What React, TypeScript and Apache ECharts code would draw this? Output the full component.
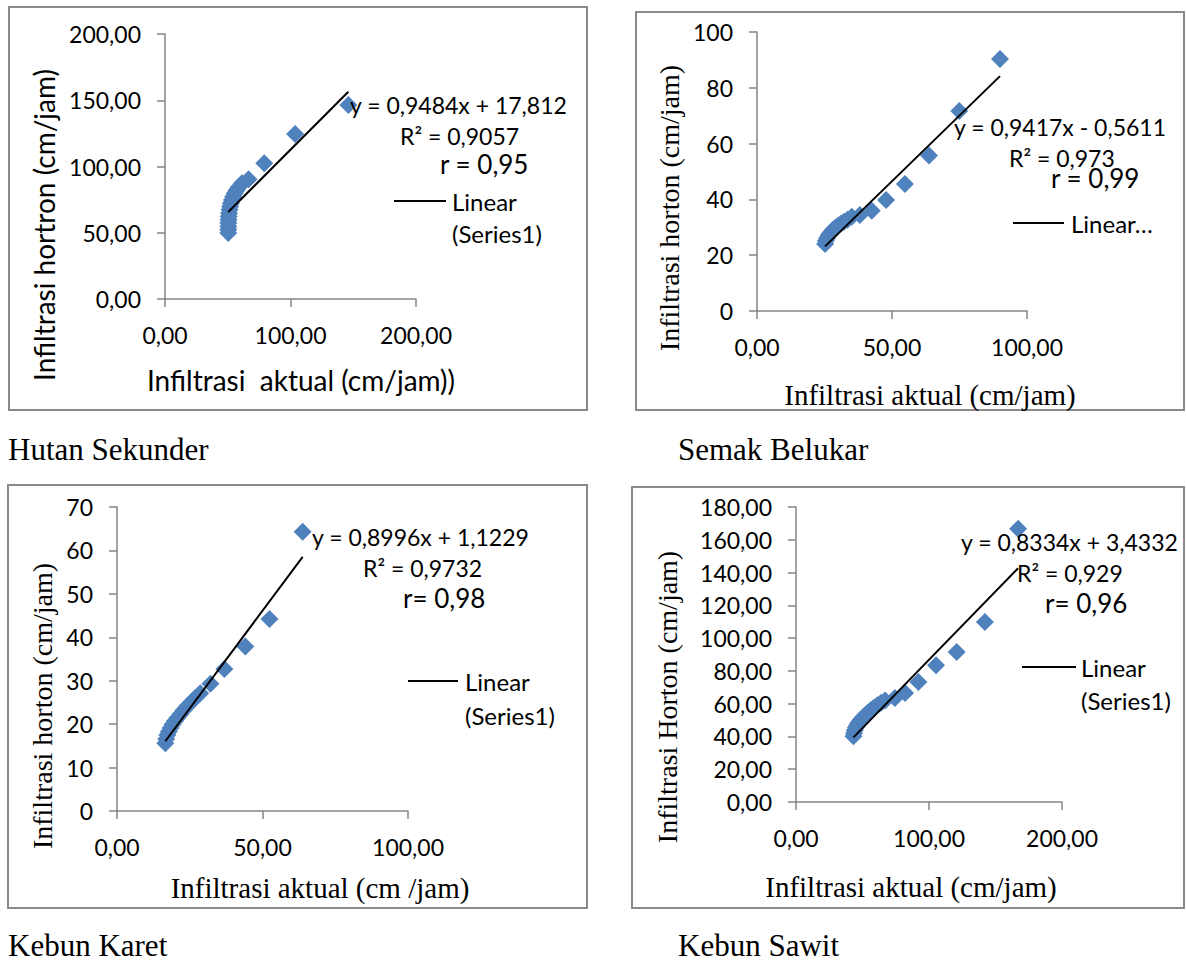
import { useEffect, useRef } from "react";
import * as echarts from "echarts";

// ---------- data ----------
const hutanX = [50.4, 50.4, 50.5, 50.5, 50.6, 50.8, 51.0, 51.4, 51.9, 52.5, 53.3, 54.3, 55.5, 57.0, 58.9, 61.3, 66.6, 79.1, 103.7, 146.1];
const hutanY = [49.8, 52.3, 54.8, 57.3, 59.8, 62.3, 64.8, 67.3, 69.8, 72.3, 74.8, 77.2, 79.6, 82.0, 84.6, 87.3, 90.3, 102.4, 124.5, 146.4];

const semakX = [25.2, 25.5, 26.0, 26.6, 27.3, 28.1, 29.0, 30.0, 31.0, 32.2, 33.5, 35.1, 38.1, 42.5, 47.8, 54.8, 63.7, 74.9, 90.0];
const semakY = [24.0, 25.2, 26.2, 27.2, 28.1, 29.0, 29.8, 30.6, 31.3, 32.0, 32.7, 33.8, 34.4, 35.9, 39.8, 45.5, 55.7, 71.7, 90.3];

const karetX = [16.6, 16.9, 17.3, 17.8, 18.4, 19.1, 19.9, 20.8, 21.8, 22.9, 24.1, 25.4, 26.9, 28.6, 32.1, 36.9, 44.1, 52.4, 63.8];
const karetY = [15.6, 16.6, 17.5, 18.3, 19.1, 19.9, 20.7, 21.5, 22.3, 23.2, 24.1, 25.0, 26.0, 27.1, 29.3, 32.7, 37.9, 44.2, 64.3];

const sawitX = [43.2, 43.6, 44.2, 45.0, 46.0, 47.2, 48.6, 50.2, 52.0, 54.0, 56.2, 58.6, 61.2, 64.0, 67.0, 74.4, 82.0, 92.0, 105.3, 120.8, 142.0, 167.0];
const sawitY = [40.1, 42.0, 43.8, 45.5, 47.0, 48.5, 50.0, 51.5, 53.0, 54.5, 56.0, 57.5, 59.0, 60.5, 62.0, 63.5, 66.5, 73.2, 83.4, 91.5, 109.8, 166.7];

const slopes = [0.9484, 0.9417, 0.8996, 0.8334];
const intercepts = [17.812, -0.5611, 1.1229, 3.4332];

const captions = ["Hutan Sekunder", "Semak Belukar", "Kebun Karet", "Kebun Sawit"];
const eqTexts = ["y = 0,9484x + 17,812", "y = 0,9417x - 0,5611", "y = 0,8996x + 1,1229", "y = 0,8334x + 3,4332"];
const r2Texts = ["R² = 0,9057", "R² = 0,973", "R² = 0,9732", "R² = 0,929"];
const rTexts = ["r = 0,95", "r = 0,99", "r= 0,98", "r= 0,96"];
const xTitles = ["Infiltrasi  aktual (cm/jam))", "Infiltrasi aktual (cm/jam)", "Infiltrasi aktual (cm /jam)", "Infiltrasi aktual (cm/jam)"];
const yTitles = ["Infiltrasi hortron (cm/jam)", "Infiltrasi horton (cm/jam)", "Infiltrasi horton (cm/jam)", "Infiltrasi Horton (cm/jam)"];

const xMax = [200, 100, 100, 200];
const xStep = [100, 50, 50, 100];
const yMax = [200, 100, 70, 180];
const yStep = [50, 20, 10, 20];
const yDecimals = [true, false, false, true];

// ---------- styling ----------
const SANS = 'Lato, "Open Sans", sans-serif';
const SERIF = '"Liberation Serif", "Times New Roman", serif';
const BLUE = "#4F81BD";
const AXIS = "#868686";

const comma = (v: number) => v.toFixed(2).replace(".", ",");
const intFmt = (v: number) => String(Math.round(v));

const grids = [
  { left: 165, top: 34, width: 251, height: 265 },
  { left: 757, top: 32, width: 270, height: 279 },
  { left: 117, top: 507, width: 291, height: 304 },
  { left: 796, top: 507, width: 266, height: 295 },
];

const frames = [
  { x: 9, y: 7, w: 578, h: 403 },
  { x: 636, y: 12, w: 548, h: 398 },
  { x: 8, y: 485, w: 579, h: 423 },
  { x: 632, y: 487, w: 552, h: 421 },
];

const textPos = [
  { eq: [350, 105], r2: [400, 136], r: [440, 164], leg: [394, 446, 201], lt: [452, 201], ls: [452, 233], xt: [301, 380], yt: [44, 225], cap: [8, 449], sans: true },
  { eq: [954, 127], r2: [1009, 158], r: [1051, 178], leg: [1013, 1064, 223], lt: [1071, 223], ls: null, xt: [930, 395], yt: [669, 208], cap: [678, 449], sans: false },
  { eq: [312, 537], r2: [363, 568], r: [403, 598], leg: [408, 458, 681], lt: [465, 681], ls: [465, 715], xt: [320, 888], yt: [42, 706], cap: [8, 945], sans: false },
  { eq: [961, 542], r2: [1017, 573], r: [1045, 603], leg: [1022, 1076, 667], lt: [1081, 667], ls: [1081, 700], xt: [911, 887], yt: [667, 697], cap: [678, 945], sans: false },
];

const xsAll = [hutanX, semakX, karetX, sawitX];
const ysAll = [hutanY, semakY, karetY, sawitY];

function buildOption() {
  const xAxis: any[] = [];
  const yAxis: any[] = [];
  const series: any[] = [];
  const graphic: any[] = [];

  for (let i = 0; i < 4; i++) {
    const common = {
      type: "value",
      gridIndex: i,
      min: 0,
      axisLine: { show: true, onZero: false, lineStyle: { color: AXIS, width: 1.5 } },
      axisTick: { show: true, inside: false, length: 8, lineStyle: { color: AXIS, width: 1.5 } },
      splitLine: { show: false },
    };
    xAxis.push({
      ...common,
      max: xMax[i],
      interval: xStep[i],
      axisLabel: { formatter: comma, color: "#000", fontFamily: SANS, fontSize: 23, margin: 24 },
    });
    yAxis.push({
      ...common,
      max: yMax[i],
      interval: yStep[i],
      axisLabel: { formatter: yDecimals[i] ? comma : intFmt, color: "#000", fontFamily: SANS, fontSize: 23, margin: 24 },
    });
    const xs = xsAll[i];
    const ys = ysAll[i];
    series.push({
      type: "scatter",
      xAxisIndex: i,
      yAxisIndex: i,
      symbol: "diamond",
      symbolSize: 18,
      itemStyle: { color: BLUE, opacity: 1 },
      data: xs.map((x, k) => [x, ys[k]]),
      z: 2,
    });
    const x0 = Math.min(...xs);
    const x1 = Math.max(...xs);
    series.push({
      type: "line",
      xAxisIndex: i,
      yAxisIndex: i,
      symbol: "none",
      lineStyle: { color: "#000", width: 2 },
      data: [
        [x0, slopes[i] * x0 + intercepts[i]],
        [x1, slopes[i] * x1 + intercepts[i]],
      ],
      z: 3,
    });

    const f = frames[i];
    graphic.push({
      type: "rect",
      shape: { x: f.x, y: f.y, width: f.w, height: f.h },
      style: { fill: "none", stroke: "#8a8a8a", lineWidth: 2 },
      z: -1,
    });
    const p = textPos[i];
    const txt = (t: string, x: number, y: number, size: number, family: string) => ({
      type: "text",
      x,
      y,
      style: { text: t, fill: "#000", fontFamily: family, fontSize: size, verticalAlign: "middle" },
      z: 10,
    });
    graphic.push(txt(eqTexts[i], p.eq[0], p.eq[1], 23, SANS));
    graphic.push(txt(r2Texts[i], p.r2[0], p.r2[1], 23, SANS));
    graphic.push(txt(rTexts[i], p.r[0], p.r[1], 26, SANS));
    graphic.push({
      type: "line",
      shape: { x1: p.leg[0], y1: p.leg[2], x2: p.leg[1], y2: p.leg[2] },
      style: { stroke: "#000", lineWidth: 2 },
      z: 10,
    });
    graphic.push(txt(i === 1 ? "Linear…" : "Linear", p.lt[0], p.lt[1], 24, SANS));
    if (p.ls) graphic.push(txt("(Series1)", p.ls[0], p.ls[1], 24, SANS));
    const titleFont = p.sans ? SANS : SERIF;
    graphic.push({
      type: "text",
      x: p.xt[0],
      y: p.xt[1],
      style: { text: xTitles[i], fill: "#000", fontFamily: titleFont, fontSize: p.sans ? 28 : 29, align: "center", verticalAlign: "middle" },
      z: 10,
    });
    graphic.push({
      type: "text",
      x: p.yt[0],
      y: p.yt[1],
      rotation: Math.PI / 2,
      style: { text: yTitles[i], fill: "#000", fontFamily: titleFont, fontSize: 28, align: "center", verticalAlign: "middle" },
      z: 10,
    });
    graphic.push({
      type: "text",
      x: p.cap[0],
      y: p.cap[1],
      style: { text: captions[i], fill: "#000", fontFamily: SERIF, fontSize: 31, align: "left", verticalAlign: "middle" },
      z: 10,
    });
  }

  return {
    animation: false,
    backgroundColor: "#fff",
    grid: grids.map((g) => ({ ...g, containLabel: false })),
    xAxis,
    yAxis,
    series,
    graphic,
  };
}

export default function App() {
  const ref = useRef<HTMLDivElement>(null);
  useEffect(() => {
    if (!ref.current) return;
    const chart = echarts.init(ref.current, undefined, { renderer: "svg" });
    chart.setOption(buildOption() as any);
    return () => chart.dispose();
  }, []);
  return <div ref={ref} style={{ position: "absolute", left: 0, top: 0, width: 1186, height: 962 }} />;
}
